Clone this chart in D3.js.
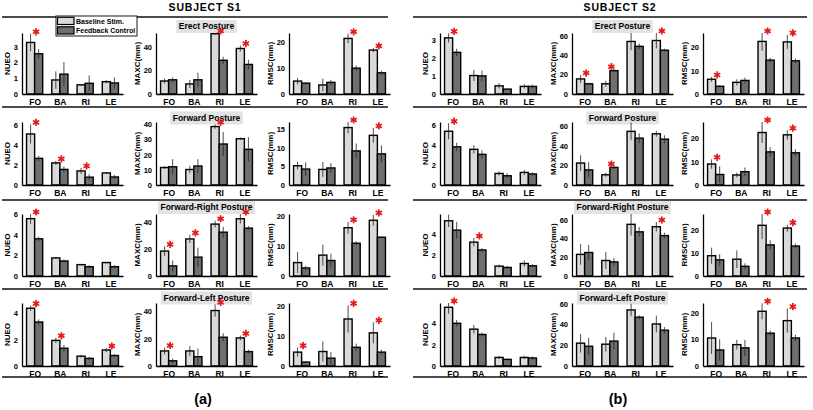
<!DOCTYPE html>
<html>
<head>
<meta charset="utf-8">
<script src="https://cdn.jsdelivr.net/npm/d3@7"></script>
<style>
  body { margin: 0; background: #fff; }
  text { font-family: "Liberation Sans", Arial, sans-serif; font-weight: bold; fill: #000; }
</style>
</head>
<body>
<div id="chart"></div>
<script>
// categories / labels
const categories = ['FO', 'BA', 'RI', 'LE'];
const postures = ['Erect Posture', 'Forward Posture', 'Forward-Right Posture', 'Forward-Left Posture'];
const metrics = ['NUEO', 'MAXC(mm)', 'RMSC(mm)'];
const seriesNames = ['Baseline Stim.', 'Feedback Control'];
const subjects = ['SUBJECT S1', 'SUBJECT S2'];
const panelLabels = ['(a)', '(b)'];

// values: [posture][category]
const s1NueoBase    = [[3.27, 0.89, 0.58, 0.78], [5.08, 2.2, 1.4, 1.2], [5.55, 1.75, 1.1, 1.3], [4.4, 1.95, 0.75, 1.22]];
const s1NueoBaseErr = [[0.55, 0.55, 0.05, 0.1], [0.95, 0.2, 0.3, 0.1], [0.5, 0.1, 0.05, 0.07], [0.2, 0.2, 0.1, 0.15]];
const s1NueoFb      = [[2.55, 1.26, 0.68, 0.7], [2.65, 1.55, 0.78, 0.8], [3.6, 1.45, 0.9, 0.9], [3.35, 1.35, 0.58, 0.8]];
const s1NueoFbErr   = [[0.3, 0.77, 0.5, 0.35], [0.25, 0.3, 0.3, 0.2], [0.2, 0.15, 0.15, 0.15], [0.2, 0.25, 0.12, 0.1]];

const s1MaxcBase    = [[11, 8.5, 51, 38.5], [11.5, 10.2, 38.5, 30.5], [18.5, 27.5, 38.5, 42.5], [11, 11, 40.5, 20.5]];
const s1MaxcBaseErr = [[2, 3.5, 1, 2.5], [1, 2.5, 1.5, 0.8], [3.5, 3, 2.5, 3.5], [2.5, 3.5, 4.5, 1.8]];
const s1MaxcFb      = [[12, 12, 28.5, 25], [12, 12.5, 27, 23.5], [7.5, 14, 32.5, 35.5], [3.8, 6.8, 21, 10.5]];
const s1MaxcFbErr   = [[2, 6, 3, 4], [5, 4.5, 8, 8], [4, 7, 4, 1.5], [1.5, 6, 3, 1.5]];

const s1RmscBase    = [[5, 3.5, 21.5, 17], [5.2, 4.2, 15.5, 13.4], [4.5, 7, 16.2, 18.7], [4.6, 4.8, 15.6, 11]];
const s1RmscBaseErr = [[1.3, 2.5, 1.8, 0.8], [1, 2, 1.5, 2], [3.5, 3.5, 2, 1.8], [1.5, 3.3, 4.5, 3.5]];
const s1RmscFb      = [[4.2, 4.5, 10, 8.2], [4.3, 4.6, 9.2, 8.4], [2.7, 5.2, 11, 13], [1.3, 2.6, 6.2, 4.6]];
const s1RmscFbErr   = [[0.4, 1, 1, 0.8], [1.8, 1.3, 2, 2.3], [0.7, 2.3, 0.7, 0.3], [0.3, 2, 1.2, 0.8]];

const s2NueoBase    = [[3.1, 1.02, 0.45, 0.42], [5.35, 3.55, 1.15, 1.25], [5.3, 3.25, 0.95, 1.2], [5.5, 3.45, 0.8, 0.8]];
const s2NueoBaseErr = [[0.25, 0.3, 0.15, 0.12], [0.8, 0.4, 0.2, 0.25], [0.6, 0.4, 0.15, 0.3], [0.6, 0.4, 0.15, 0.15]];
const s2NueoFb      = [[2.3, 1.0, 0.27, 0.42], [3.8, 3.05, 0.92, 1.1], [4.4, 2.5, 0.82, 0.98], [4.0, 2.95, 0.62, 0.75]];
const s2NueoFbErr   = [[0.2, 0.3, 0.02, 0.1], [0.4, 0.4, 0.25, 0.15], [0.8, 0.2, 0.15, 0.15], [0.3, 0.2, 0.08, 0.15]];

const s2MaxcBase    = [[15.5, 10.5, 54, 55], [22.5, 10.5, 55, 52.5], [23, 16.5, 55, 52.5], [22, 21, 54, 40.5]];
const s2MaxcBaseErr = [[4, 3, 9, 8], [8, 2, 9, 3], [11, 9, 12, 5], [9, 7, 6, 8]];
const s2MaxcFb      = [[10.5, 24, 49, 45], [15.5, 18, 48, 47], [25, 15, 47, 43], [19, 24, 47, 34.5]];
const s2MaxcFbErr   = [[1, 2, 3, 1.5], [8, 1.5, 5, 4], [8, 4, 5, 3], [8, 8, 2, 3]];

const s2RmscBase    = [[6.3, 5, 22.5, 22.3], [9, 4.3, 22.5, 21.5], [8.8, 7.3, 22, 20.8], [10.5, 8, 20.5, 17]];
const s2RmscBaseErr = [[1, 1.3, 4, 3], [2, 1, 4.5, 2], [3.5, 3.8, 6, 1.5], [6, 1.8, 3, 4.5]];
const s2RmscFb      = [[3.3, 5.8, 14.5, 14.2], [4.5, 5.7, 14.2, 13.8], [7, 4.2, 13.5, 13], [6, 6.8, 12.3, 10.5]];
const s2RmscFbErr   = [[0.5, 1.2, 1, 1], [3.5, 1.8, 2, 1.5], [2.5, 1.3, 2, 1], [4, 3, 1, 1.2]];

// significance stars: [posture][metric] -> categories
const s1Stars = [
  [['FO'], ['RI', 'LE'], ['RI', 'LE']],
  [['FO', 'BA', 'RI'], ['RI'], ['RI', 'LE']],
  [['FO'], ['FO', 'BA', 'RI', 'LE'], ['RI', 'LE']],
  [['FO', 'BA', 'LE'], ['FO', 'RI', 'LE'], ['FO', 'RI', 'LE']]
];
const s2Stars = [
  [['FO'], ['FO', 'BA', 'LE'], ['FO', 'RI', 'LE']],
  [['FO'], ['BA'], ['FO', 'RI', 'LE']],
  [['BA'], ['LE'], ['RI', 'LE']],
  [['FO'], [], ['RI', 'LE']]
];

// y-axis limits and tick steps: [posture][metric]
const s1YMax  = [[3.87, 51.6, 23.6], [6.27, 41.5, 17], [6.0, 46, 20.8], [4.8, 46, 20.9]];
const s1YStep = [[1, 20, 10], [2, 10, 5], [2, 20, 10], [2, 20, 10]];
const s2YMax  = [[3.37, 62.7, 26.1], [6.27, 64.6, 27], [5.95, 66, 26.9], [5.9, 60.7, 23.6]];
const s2YStep = [[1, 20, 10], [2, 20, 10], [2, 20, 10], [2, 20, 10]];

const width = 813, height = 410;
const lightFill = '#d9d9d9', darkFill = '#6f6f6f', starColor = '#e41a1c';

const svg = d3.select('#chart').append('svg')
  .attr('width', width)
  .attr('height', height);

svg.append('rect').attr('width', width).attr('height', height).attr('fill', '#fff');

// layout
const panelX = [[22, 156, 289], [440, 572, 703]];
const rowTop = [33, 122, 214, 303], rowBottom = [94, 185, 276, 366];
const plotW = 101;
const titleY = [26.5, 118, 207.5, 298];
const lineY = [17, 107, 200, 289, 377];
const lineX = [[2, 388], [413, 807]];
const subjectX = [205, 620];

const subjectData = [
  { metrics: [[s1NueoBase, s1NueoBaseErr, s1NueoFb, s1NueoFbErr],
               [s1MaxcBase, s1MaxcBaseErr, s1MaxcFb, s1MaxcFbErr],
               [s1RmscBase, s1RmscBaseErr, s1RmscFb, s1RmscFbErr]],
    stars: s1Stars, yMax: s1YMax, yStep: s1YStep },
  { metrics: [[s2NueoBase, s2NueoBaseErr, s2NueoFb, s2NueoFbErr],
               [s2MaxcBase, s2MaxcBaseErr, s2MaxcFb, s2MaxcFbErr],
               [s2RmscBase, s2RmscBaseErr, s2RmscFb, s2RmscFbErr]],
    stars: s2Stars, yMax: s2YMax, yStep: s2YStep }
];

const star = d3.symbol(d3.symbolAsterisk, 36);

function drawPlot(g, vals, errs, fbVals, fbErrs, yMax, step, stars, label, h) {
  const x = d3.scaleLinear().domain([0.5, 4.5]).range([0, plotW]);
  const y = d3.scaleLinear().domain([0, yMax]).range([h, 0]);
  const bw = x(1.32) - x(1);
  const top = v => y(Math.min(v, yMax));

  const rows = categories.map((c, i) => ({ c, i, b: vals[i], be: errs[i], f: fbVals[i], fe: fbErrs[i] }));

  // bars
  g.selectAll('rect.base').data(rows).enter().append('rect')
    .attr('class', 'base')
    .attr('x', d => x(d.i + 1) - bw)
    .attr('y', d => y(d.b))
    .attr('width', bw)
    .attr('height', d => h - y(d.b))
    .attr('fill', lightFill).attr('stroke', '#000').attr('stroke-width', 1.4);
  g.selectAll('rect.fb').data(rows).enter().append('rect')
    .attr('class', 'fb')
    .attr('x', d => x(d.i + 1))
    .attr('y', d => y(d.f))
    .attr('width', bw)
    .attr('height', d => h - y(d.f))
    .attr('fill', darkFill).attr('stroke', '#000').attr('stroke-width', 1.4);

  // error bars
  g.selectAll('line.eb').data(rows).enter().append('line')
    .attr('class', 'eb')
    .attr('x1', d => x(d.i + 1) - bw / 2).attr('x2', d => x(d.i + 1) - bw / 2)
    .attr('y1', d => y(Math.max(0, d.b - d.be))).attr('y2', d => top(d.b + d.be))
    .attr('stroke', '#222').attr('stroke-width', 0.8);
  g.selectAll('line.ef').data(rows).enter().append('line')
    .attr('class', 'ef')
    .attr('x1', d => x(d.i + 1) + bw / 2).attr('x2', d => x(d.i + 1) + bw / 2)
    .attr('y1', d => y(Math.max(0, d.f - d.fe))).attr('y2', d => top(d.f + d.fe))
    .attr('stroke', '#222').attr('stroke-width', 0.8);

  // axes
  const ticks = d3.range(0, yMax + 1e-9, step);
  const yAxis = g.append('g')
    .call(d3.axisLeft(y).tickValues(ticks).tickSize(0).tickSizeOuter(0).tickPadding(4).tickFormat(d3.format('d')));
  yAxis.selectAll('text').attr('font-size', 7.5).attr('font-family', null);
  yAxis.select('.domain').attr('stroke-width', 1.3);

  const xAxis = g.append('g').attr('transform', `translate(0,${h})`)
    .call(d3.axisBottom(x).tickValues([1, 2, 3, 4]).tickSize(0).tickSizeOuter(0).tickPadding(5)
      .tickFormat(i => categories[i - 1]));
  xAxis.selectAll('text').attr('font-size', 8.5).attr('font-family', null);
  xAxis.select('.domain').attr('stroke-width', 1.3);

  const off = yAxis.node().getBBox().width + 6;
  g.append('text')
    .attr('transform', 'rotate(-90)')
    .attr('x', -h / 2).attr('y', -off)
    .attr('dy', '0.35em')
    .attr('text-anchor', 'middle')
    .attr('font-size', 8)
    .text(label);

  // stars
  g.selectAll('path.star').data(rows.filter(d => stars.includes(d.c))).enter().append('path')
    .attr('class', 'star')
    .attr('d', star)
    .attr('transform', d => `translate(${x(d.i + 1) + 1.5},${top(Math.max(d.b + d.be, d.f + d.fe)) - 2})`)
    .attr('fill', 'none').attr('stroke', starColor).attr('stroke-width', 1.7);
}

subjectData.forEach((sd, s) => {
  // title + rules
  svg.append('text')
    .attr('x', subjectX[s]).attr('y', 10.5)
    .attr('text-anchor', 'middle')
    .attr('font-size', 10.5).attr('letter-spacing', 0.8)
    .text(subjects[s]);

  lineY.forEach(ly => {
    svg.append('line')
      .attr('x1', lineX[s][0]).attr('x2', lineX[s][1])
      .attr('y1', ly).attr('y2', ly)
      .attr('stroke', '#111').attr('stroke-width', 1.6);
  });

  svg.append('text')
    .attr('x', subjectX[s] - 2).attr('y', 404)
    .attr('text-anchor', 'middle')
    .attr('font-size', 14.5)
    .text(panelLabels[s]);

  postures.forEach((p, r) => {
    const cx = panelX[s][1] + plotW / 2;
    const t = svg.append('text')
      .attr('x', cx).attr('y', titleY[r])
      .attr('dy', '0.35em')
      .attr('text-anchor', 'middle')
      .attr('font-size', 8.5)
      .text(p);
    const tw = t.node().getComputedTextLength() + 5;
    svg.insert('rect', () => t.node())
      .attr('x', cx - tw / 2).attr('y', titleY[r] - 6.5)
      .attr('width', tw).attr('height', 13)
      .attr('fill', '#e2e2e2');

    const h = rowBottom[r] - rowTop[r];
    metrics.forEach((m, k) => {
      const [b, be, f, fe] = sd.metrics[k];
      const g = svg.append('g').attr('transform', `translate(${panelX[s][k]},${rowTop[r]})`);
      drawPlot(g, b[r], be[r], f[r], fe[r], sd.yMax[r][k], sd.yStep[r][k], sd.stars[r][k], m, h);
    });
  });
});

// legend (subject S1, erect row)
const legend = svg.append('g').attr('transform', 'translate(56,16)');
legend.append('rect')
  .attr('width', 81).attr('height', 20)
  .attr('fill', '#fff').attr('stroke', '#000').attr('stroke-width', 0.9);
[lightFill, darkFill].forEach((c, i) => {
  legend.append('rect')
    .attr('x', 1.5).attr('y', 1.3 + i * 9.5)
    .attr('width', 16.5).attr('height', 7.2)
    .attr('fill', c).attr('stroke', '#000').attr('stroke-width', 1.2);
  legend.append('text')
    .attr('x', 20).attr('y', 7.6 + i * 9.5)
    .attr('font-size', 7)
    .text(seriesNames[i]);
});
</script>
</body>
</html>
